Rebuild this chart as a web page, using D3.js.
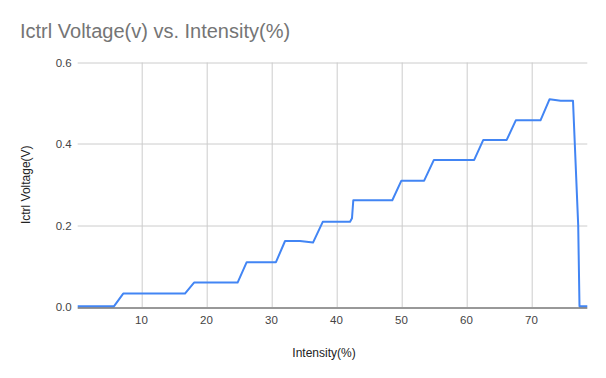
<!DOCTYPE html>
<html>
<head>
<meta charset="utf-8">
<script src="https://cdn.jsdelivr.net/npm/d3@7"></script>
<style>
  body { margin: 0; background: #fff; }
  text { font-family: Arial, "Liberation Sans", sans-serif; }
</style>
</head>
<body>
<div id="chart"></div>
<script>
// intensity (%) and Ictrl voltage (V)
const intensity = [0.2, 5.8, 7.2, 16.7, 18.1, 24.8, 26.2, 30.7, 32.1, 34.4, 36.4, 37.9, 42.1, 42.4, 42.6,
  48.6, 50.0, 53.5, 55.0, 61.2, 62.6, 66.2, 67.6, 71.4, 72.8, 74.5, 76.4, 77.2, 77.4, 78.6];
const voltage = [0.002, 0.002, 0.033, 0.033, 0.060, 0.060, 0.110, 0.110, 0.162, 0.162, 0.158, 0.209, 0.209, 0.218, 0.262,
  0.262, 0.310, 0.310, 0.361, 0.361, 0.410, 0.410, 0.458, 0.458, 0.510, 0.506, 0.506, 0.201, 0.002, 0.002];
const xTicks = [10, 20, 30, 40, 50, 60, 70];
const yTicks = [0, 0.2, 0.4, 0.6];

const W = 606, H = 378;
const margin = { top: 62.5, right: 18.7, bottom: 71, left: 77.7 };
const iw = W - margin.left - margin.right;
const ih = H - margin.top - margin.bottom;

const data = intensity.map((x, i) => ({ x, y: voltage[i] }));

const svg = d3.select('#chart').append('svg')
  .attr('width', W).attr('height', H);

svg.append('text')
  .attr('x', 20).attr('y', 38)
  .attr('font-size', 20)
  .attr('fill', '#757575')
  .text('Ictrl Voltage(v) vs. Intensity(%)');

const g = svg.append('g').attr('transform', `translate(${margin.left},${margin.top})`);

const x = d3.scaleLinear().domain([0.2, 78.6]).range([0, iw]);
const y = d3.scaleLinear().domain([0, 0.6]).range([ih, 0]);

// grid
g.append('g').selectAll('line.vx')
  .data(xTicks).join('line')
  .attr('x1', d => Math.round(x(d)) + 0.5).attr('x2', d => Math.round(x(d)) + 0.5)
  .attr('y1', 0).attr('y2', ih)
  .attr('stroke', '#cccccc');

g.append('g').selectAll('line.hy')
  .data(yTicks.filter(d => d > 0)).join('line')
  .attr('x1', 0).attr('x2', iw)
  .attr('y1', d => Math.round(y(d)) + 0.5).attr('y2', d => Math.round(y(d)) + 0.5)
  .attr('stroke', '#cccccc');

// tick labels
g.append('g').selectAll('text')
  .data(xTicks).join('text')
  .attr('x', d => x(d)).attr('y', ih + 17)
  .attr('text-anchor', 'middle')
  .attr('font-size', 11.5)
  .attr('fill', '#444')
  .text(d => d);

g.append('g').selectAll('text')
  .data(yTicks).join('text')
  .attr('x', -6).attr('y', d => y(d)).attr('dy', '0.35em')
  .attr('text-anchor', 'end')
  .attr('font-size', 11.5)
  .attr('fill', '#444')
  .text(d => d3.format('.1f')(d));

// line
const line = d3.line().x(d => x(d.x)).y(d => y(d.y));
g.append('path')
  .datum(data)
  .attr('d', line)
  .attr('fill', 'none')
  .attr('stroke', '#4285f4')
  .attr('stroke-width', 2)
  .attr('stroke-linejoin', 'round');

// baseline
g.append('line')
  .attr('x1', 0).attr('x2', iw)
  .attr('y1', Math.round(y(0)) + 0.5).attr('y2', Math.round(y(0)) + 0.5)
  .attr('stroke', '#333');

// axis titles
svg.append('text')
  .attr('x', 324).attr('y', 357)
  .attr('text-anchor', 'middle')
  .attr('font-size', 12)
  .attr('fill', '#222')
  .text('Intensity(%)');

svg.append('text')
  .attr('transform', `translate(30,${margin.top + ih / 2}) rotate(-90)`)
  .attr('text-anchor', 'middle')
  .attr('font-size', 12)
  .attr('fill', '#222')
  .text('Ictrl Voltage(V)');
</script>
</body>
</html>
